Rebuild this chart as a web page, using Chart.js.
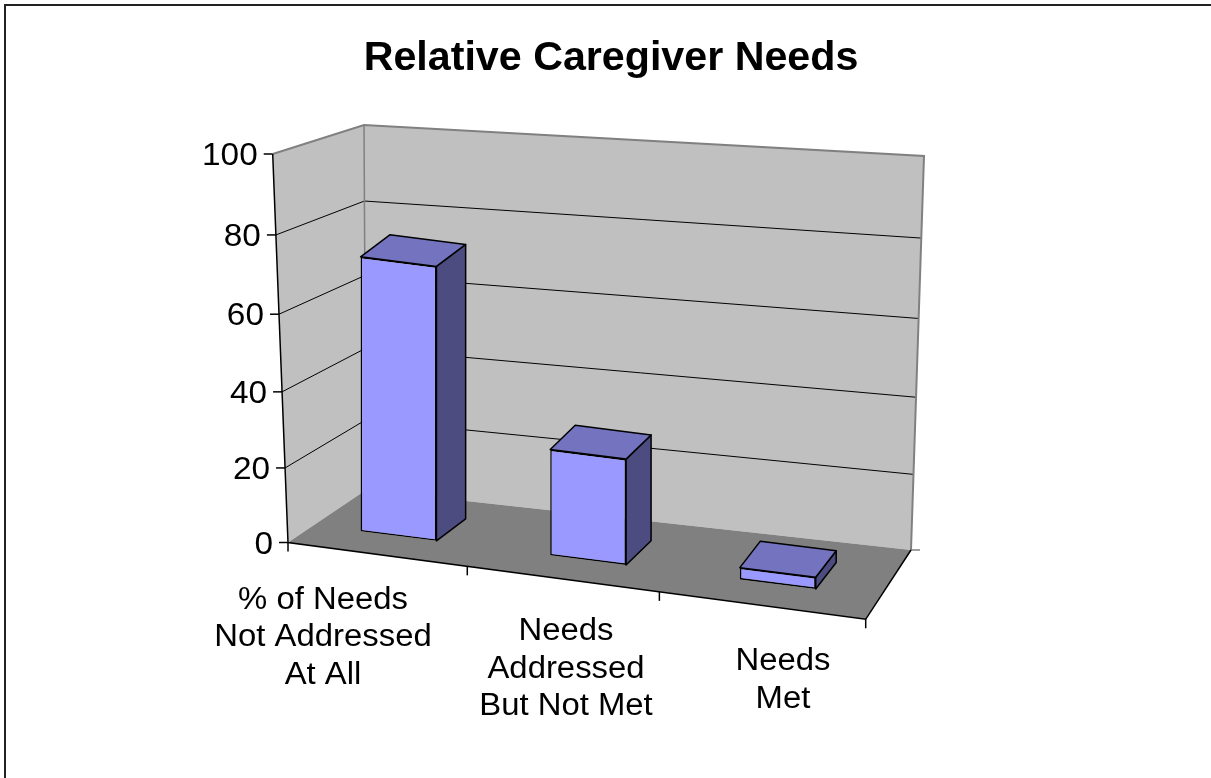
<!DOCTYPE html>
<html>
<head>
<meta charset="utf-8">
<title>Relative Caregiver Needs</title>
<script src="https://cdn.jsdelivr.net/npm/chart.js@4.4.1/dist/chart.umd.min.js"></script>
<style>
  html, body { margin: 0; padding: 0; background: #fff; }
  #wrap { position: relative; width: 1211px; height: 778px; }
</style>
</head>
<body>
<div id="wrap"><canvas id="chart"></canvas></div>
<script>
const chartTitle = 'Relative Caregiver Needs';
const categories = [
  ['% of Needs', 'Not Addressed', 'At All'],
  ['Needs', 'Addressed', 'But Not Met'],
  ['Needs', 'Met']
];
const percentValues = [70, 27, 3];
const yTicks = [0, 20, 40, 60, 80, 100];

// screen corners of the fake 3D box: front/back, left/right, bottom/top
const corners = {
  flb: [288, 542.5], frb: [865.7, 619.3], blb: [366, 490], brb: [911, 550],
  flt: [272.7, 154], frt: [878, 196], blt: [364, 125], brt: [924, 156]
};
const warpU = -0.1, warpV = -0.05;   // a little perspective
const skew = 0.127;                  // tilt of the bar fronts
const barDepth = [0.3, 0.7];
const labelAnchors = [[323, 608.5], [566, 640], [783, 670]];
const textStretch = 1.06;
const fontFam = '"Liberation Sans", Arial, sans-serif';

function warp(t, a) { return t * (1 + a) / (1 + a * t); }
function lerp(p, q, t) { return [p[0] + (q[0] - p[0]) * t, p[1] + (q[1] - p[1]) * t]; }
function proj(u, v, w) {
  const c = corners;
  u = warp(u, warpU); v = warp(v, warpV);
  const bot = lerp(lerp(c.flb, c.frb, u), lerp(c.blb, c.brb, u), w);
  const top = lerp(lerp(c.flt, c.frt, u), lerp(c.blt, c.brt, u), w);
  return lerp(bot, top, v);
}
function path(ctx, pts, close) {
  ctx.beginPath();
  pts.forEach((p, i) => i ? ctx.lineTo(p[0], p[1]) : ctx.moveTo(p[0], p[1]));
  if (close) ctx.closePath();
}
function poly(ctx, pts, fill, stroke, lw) {
  path(ctx, pts, true);
  if (fill) { ctx.fillStyle = fill; ctx.fill(); }
  if (stroke) { ctx.strokeStyle = stroke; ctx.lineWidth = lw || 1; ctx.stroke(); }
}
function polyline(ctx, pts, color, lw) {
  path(ctx, pts, false);
  ctx.strokeStyle = color; ctx.lineWidth = lw; ctx.stroke();
}
function stretchedText(ctx, str, x, y, align, k) {
  ctx.save();
  ctx.translate(x, y);
  ctx.scale(k, 1);
  ctx.textAlign = align;
  ctx.textBaseline = 'alphabetic';
  ctx.fillText(str, 0, 0);
  ctx.restore();
}

const box3d = {
  id: 'box3d',
  beforeDatasetsDraw(chart) {
    const ctx = chart.ctx, area = chart.chartArea, y = chart.scales.y;
    const vOf = t => (area.bottom - y.getPixelForValue(t)) / (area.bottom - area.top);
    ctx.save();
    // walls and floor
    poly(ctx, [proj(0, 0, 0), proj(0, 1, 0), proj(0, 1, 1), proj(0, 0, 1)], '#c0c0c0');
    poly(ctx, [proj(0, 0, 1), proj(0, 1, 1), proj(1, 1, 1), proj(1, 0, 1)], '#c0c0c0');
    poly(ctx, [proj(0, 0, 0), proj(0, 0, 1), proj(1, 0, 1), proj(1, 0, 0)], '#808080');
    // gridlines
    yTicks.forEach(t => {
      const v = vOf(t);
      if (v <= 0.001 || v >= 0.999) return;
      polyline(ctx, [proj(0, v, 0), proj(0, v, 1), proj(1, v, 1)], '#000', 1);
    });
    // wall edges
    polyline(ctx, [proj(0, 1, 0), proj(0, 1, 1), proj(1, 1, 1), proj(1, 0, 1)], '#808080', 2);
    polyline(ctx, [proj(0, 1, 1), proj(0, 0, 1)], '#808080', 1.5);
    polyline(ctx, [proj(1, 0, 1), [proj(1, 0, 1)[0] + 9, proj(1, 0, 1)[1]]], '#808080', 1.5);
    // axes
    polyline(ctx, [proj(0, 1, 0), proj(0, 0, 0), proj(1, 0, 0), proj(1, 0, 1)], '#000', 1.5);
    yTicks.forEach(t => {
      const p = proj(0, vOf(t), 0);
      polyline(ctx, [[p[0] - 9, p[1]], p], '#000', 1.5);
    });
    for (let i = 0; i <= categories.length; i++) {
      const p = proj(i / categories.length, 0, 0);
      polyline(ctx, [p, [p[0], p[1] + 9]], '#000', 1.5);
    }
    ctx.restore();
    // bar fronts are drawn by Chart.js in a skewed frame
    ctx.save();
    ctx.transform(1, skew, 0, 1, 0, -skew * area.left);
  },
  afterDatasetsDraw(chart) {
    const ctx = chart.ctx, area = chart.chartArea;
    ctx.restore();
    const S = (x, yy) => [x, yy + skew * (x - area.left)];
    ctx.save();
    ctx.lineJoin = 'round';
    chart.getDatasetMeta(0).data.forEach(bar => {
      const p = bar.getProps(['x', 'y', 'base', 'width'], true);
      const l = p.x - p.width / 2, r = p.x + p.width / 2;
      const u = (p.x - area.left) / (area.right - area.left);
      const f = proj(u, 0, barDepth[0]), b = proj(u, 0, barDepth[1]);
      const add = q => [q[0] + b[0] - f[0], q[1] + b[1] - f[1]];
      const tl = S(l, p.y), tr = S(r, p.y), br = S(r, p.base);
      poly(ctx, [tr, add(tr), add(br), br], '#4c4c80', '#000', 1.5);
      poly(ctx, [tl, tr, add(tr), add(tl)], '#7373bf', '#000', 1.5);
    });
    ctx.restore();
  },
  afterDraw(chart) {
    const ctx = chart.ctx, area = chart.chartArea, y = chart.scales.y;
    const vOf = t => (area.bottom - y.getPixelForValue(t)) / (area.bottom - area.top);
    ctx.save();
    ctx.fillStyle = '#000';
    ctx.font = 'bold 40px ' + fontFam;
    stretchedText(ctx, chartTitle, 611, 70, 'center', 1.03);
    ctx.font = '31.5px ' + fontFam;
    yTicks.forEach(t => {
      const p = proj(0, vOf(t), 0);
      stretchedText(ctx, String(t), p[0] - 15, p[1] + 11.2, 'right', textStretch);
    });
    ctx.font = '31px ' + fontFam;
    chart.scales.x.getLabels().forEach((lines, i) => {
      const a = labelAnchors[i];
      lines.forEach((s, j) => stretchedText(ctx, s, a[0], a[1] + j * 37.5, 'center', textStretch));
    });
    // frame (cut off on right and bottom)
    polyline(ctx, [[5, chart.height], [5, 5], [chart.width, 5]], '#222', 2);
    ctx.restore();
  }
};

new Chart(document.getElementById('chart'), {
  type: 'bar',
  data: {
    labels: categories,
    datasets: [{
      data: percentValues,
      backgroundColor: '#9999ff',
      borderColor: '#000',
      borderWidth: 1.5,
      borderSkipped: false,
      barPercentage: 0.4,
      categoryPercentage: 1,
      clip: false
    }]
  },
  options: {
    responsive: true,
    maintainAspectRatio: false,
    animation: false,
    layout: { padding: { left: 303.7, right: 338.4, top: 132, bottom: 254 } },
    scales: {
      x: { display: false },
      y: { display: false, min: 0, max: 100 }
    },
    plugins: {
      legend: { display: false },
      title: { display: false },
      tooltip: { enabled: false }
    }
  },
  plugins: [box3d]
});
</script>
</body>
</html>
